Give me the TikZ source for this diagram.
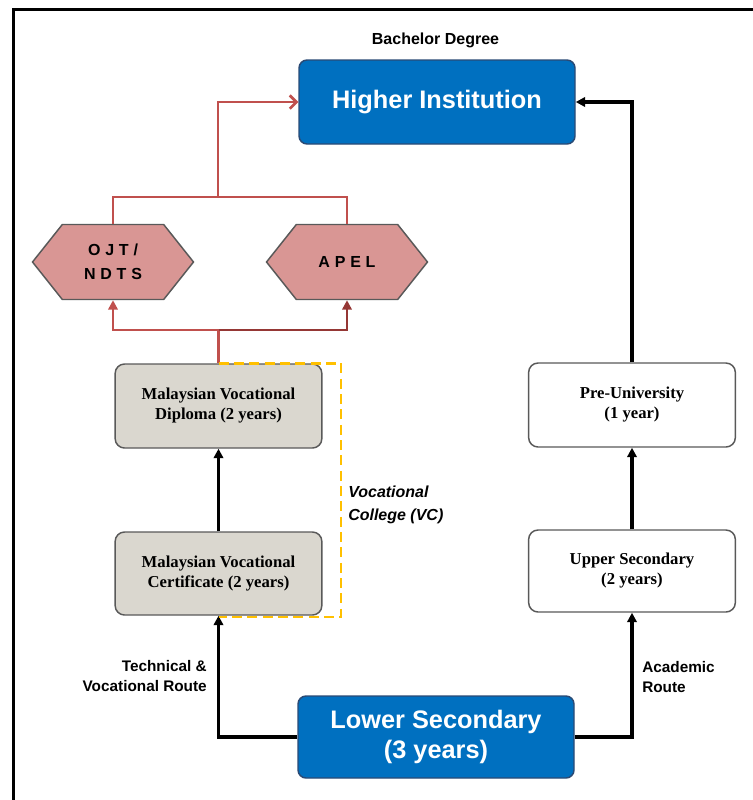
\documentclass[tikz,border=0pt]{standalone}
\usepackage{fontspec}
\setmainfont{Liberation Serif}
\newfontfamily\headf{Liberation Sans}
\newfontfamily\hexf[LetterSpace=30]{Liberation Sans}
\newfontfamily\boxf{Liberation Serif}
\usetikzlibrary{arrows.meta,shapes.symbols}
\definecolor{hiblue}{HTML}{0070C0}
\definecolor{hiborder}{HTML}{2A4A75}
\definecolor{boxborder}{HTML}{595959}
\definecolor{vcgray}{HTML}{DAD7CF}
\definecolor{hexfill}{HTML}{D99694}
\definecolor{redl}{HTML}{C0504D}
\definecolor{redd}{HTML}{953735}
\definecolor{vcorange}{HTML}{FFC000}
\tikzset{
  bluebox/.style={draw=hiborder, line width=1.1pt, fill=hiblue, rounded corners=6pt,
    text=white, align=center, inner sep=0pt, minimum width=207pt,
    font=\headf\bfseries\fontsize{19}{23}\selectfont},
  stagebox/.style={draw=boxborder, line width=1.1pt, rounded corners=7pt, align=center,
    inner sep=0pt, minimum width=155pt, minimum height=63pt,
    font=\boxf\bfseries\fontsize{12.5}{15}\selectfont},
  graybox/.style={stagebox, fill=vcgray},
  whitebox/.style={stagebox, fill=white},
  hexbox/.style={signal, signal to=east and west, signal pointer angle=103,
    draw=boxborder, line width=1.1pt, fill=hexfill, minimum width=120.75pt,
    minimum height=56.25pt, inner sep=0pt, align=center,
    font=\hexf\bfseries\fontsize{12}{18}\selectfont},
  labeltext/.style={font=\headf\bfseries\fontsize{11.5}{15}\selectfont, inner sep=0pt},
  vctext/.style={font=\headf\bfseries\itshape\fontsize{12}{17}\selectfont, inner sep=0pt},
  blackarrow/.style={line width=2.3pt, -{Triangle[length=7pt,width=7pt]}},
  redline/.style={draw=redl, line width=2pt},
  redarrow/.style={redline, -{Triangle[length=7pt,width=7pt]}},
  redbarb/.style={redline, -{Straight Barb[length=5pt,width=10pt]}},
  vcdash/.style={draw=vcorange, line width=2pt, dash pattern=on 7.5pt off 4pt},
}
\begin{document}
\begin{tikzpicture}[x=0.75pt,y=-0.75pt]
\useasboundingbox (0,0) rectangle (753,800);
\draw[line width=2.25pt] (13,800) -- (13,9) -- (753,9);

\node[bluebox, minimum height=63pt] (hi) at (437,102) {Higher Institution};
\node[labeltext, font=\headf\bfseries\fontsize{12}{15}\selectfont] (bd) at (435.5,40) {Bachelor Degree};

\node[hexbox] (ojt) at (113,262) {OJT/\\NDTS};
\node[hexbox] (apel) at (347,262) {APEL};

\node[graybox] (dip) at (218.5,406) {Malaysian Vocational\\Diploma (2 years)};
\node[graybox, minimum height=62.25pt] (cert) at (218.5,573.5) {Malaysian Vocational\\Certificate (2 years)};

\node[whitebox] (pre) at (632,405) {Pre-University\\(1 year)};
\node[whitebox, minimum height=61.5pt] (upp) at (632,571) {Upper Secondary\\(2 years)};

\node[bluebox, minimum height=61.5pt] (lo) at (436,737) {Lower Secondary\\(3 years)};

\node[labeltext, anchor=east, align=right] (tvr) at (207,676) {Technical \&\\Vocational Route};
\node[labeltext, anchor=west, align=left] (acr) at (642,677) {Academic\\Route};
\node[vctext, anchor=west, align=left] (vc) at (348,505) {Vocational\\College (VC)};

% black connectors
\draw[blackarrow] (lo.west) -| (cert.south);
\draw[blackarrow] (lo.east) -| (upp.south);
\draw[blackarrow] (cert.north) -- (dip.south);
\draw[blackarrow] (upp.north) -- (pre.south);
\draw[blackarrow] (pre.north) |- (hi.east);

% red connectors
\coordinate (rl) at (218,330);
\coordinate (ru) at (218,197);
\draw[redline] (dip.north) -- (dip.north |- rl);
\draw[redarrow] (dip.north |- rl) -| (ojt.south);
\draw[redarrow, draw=redd] (dip.north |- rl) -| (apel.south);
\draw[redline] (ojt.north) |- (ru) -| (apel.north);
\draw[redbarb] (ru) |- (hi.west);

% vocational college outline
\coordinate (vcne) at (341,364);
\coordinate (vcse) at (341,617);
\draw[vcdash] (dip.north) -- (dip.north -| vcne) -- (vcse) -- (cert.south |- vcse);
\end{tikzpicture}
\end{document}
